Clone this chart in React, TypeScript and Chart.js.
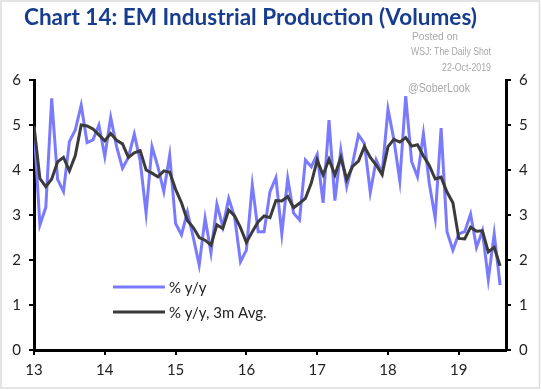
import React, { useEffect, useRef } from "react";
import { Chart, registerables } from "chart.js";

Chart.register(...registerables);

const TITLE = "Chart 14: EM Industrial Production (Volumes)";
const WATERMARK = ["Posted on", "WSJ: The Daily Shot", "22-Oct-2019"];
const HANDLE = "@SoberLook";
const START_YEAR = 13; // Jan 2013 = month 0
const MONTHS_SHOWN = 80; // axis runs to Sep 2019
const Y_MIN = 0;
const Y_MAX = 6;
const SERIES_LABELS = ["% y/y", "% y/y, 3m Avg."];

// Monthly, Jan 2013 .. Aug 2019
const yoy = [
  4.95, 2.78, 3.17, 5.59, 3.79, 3.52, 4.63, 4.89, 5.44, 4.61, 4.67, 5.0,
  4.3, 5.17, 4.52, 4.04, 4.28, 4.8, 4.2, 3.04, 4.52, 4.07, 3.52, 4.33,
  2.81, 2.56, 3.07, 2.5, 1.89, 2.93, 2.16, 3.24, 2.74, 3.37, 2.96, 1.96,
  2.22, 3.67, 2.63, 2.63, 3.52, 3.83, 2.58, 3.81, 3.04, 2.89, 4.22, 4.07,
  4.35, 3.27, 5.11, 3.32, 4.44, 3.63, 4.15, 4.78, 4.59, 3.5, 4.22, 3.93,
  5.35, 4.67, 3.76, 5.64, 4.19, 3.85, 4.81, 3.7, 2.93, 4.93, 2.63, 2.22,
  2.58, 2.63, 3.02, 2.28, 2.65, 1.57, 2.58, 1.44,
];

const avg3m = [
  4.98, 3.81, 3.63, 3.8, 4.18, 4.28, 3.98, 4.32, 5.0, 4.98, 4.91, 4.78,
  4.65, 4.81, 4.66, 4.58, 4.28, 4.38, 4.43, 4.0, 3.93, 3.85, 3.98, 3.95,
  3.57, 3.27, 2.88, 2.72, 2.5, 2.44, 2.33, 2.78, 2.7, 3.11, 2.98, 2.72,
  2.39, 2.63, 2.85, 2.98, 2.94, 3.32, 3.31, 3.41, 3.16, 3.26, 3.37, 3.71,
  4.22, 3.89, 4.24, 3.89, 4.28, 3.79, 4.08, 4.2, 4.52, 4.28, 4.11, 3.9,
  4.52, 4.68, 4.62, 4.72, 4.53, 4.56, 4.31, 4.1, 3.8, 3.84, 3.51, 3.27,
  2.48, 2.47, 2.73, 2.64, 2.65, 2.18, 2.28, 1.87,
];

const BLUE = "#7a7aff";
const DARK = "#3b3b3b";
const TICK_FONT = { family: "Lato", size: 15 };

const overlay = {
  id: "overlay",
  afterDraw(chart: any) {
    const ctx = chart.ctx as CanvasRenderingContext2D;
    ctx.save();
    // frame
    ctx.strokeStyle = "#dcdcdc";
    ctx.lineWidth = 1.5;
    ctx.strokeRect(1, 1, 538.5, 387);
    // title
    ctx.fillStyle = "#183d8e";
    ctx.font = "bold 23px Lato";
    ctx.textAlign = "left";
    ctx.textBaseline = "alphabetic";
    ctx.fillText(TITLE, 24, 25, 453);
    // watermark
    ctx.fillStyle = "#a8a8a8";
    ctx.font = "11px 'Liberation Sans'";
    ctx.fillText(WATERMARK[0], 412, 40, 46);
    ctx.font = "10px 'Liberation Sans'";
    ctx.textAlign = "right";
    ctx.fillText(WATERMARK[1], 491, 55, 80);
    ctx.fillText(WATERMARK[2], 491, 71, 49);
    ctx.textAlign = "left";
    ctx.font = "12px 'Liberation Sans'";
    ctx.fillText(HANDLE, 408, 92, 62);
    // legend
    const ds = chart.data.datasets;
    const rows = [
      { y: 287, i: 0 },
      { y: 312, i: 1 },
    ];
    ctx.font = "15px Lato";
    ctx.textBaseline = "middle";
    rows.forEach((r) => {
      const d = ds[r.i];
      ctx.strokeStyle = d.borderColor;
      ctx.lineWidth = 3;
      ctx.beginPath();
      ctx.moveTo(113, r.y);
      ctx.lineTo(165, r.y);
      ctx.stroke();
      ctx.fillStyle = "#222";
      ctx.fillText(d.label, 169, r.y + 1);
    });
    ctx.restore();
  },
};

export default function App() {
  const ref = useRef<HTMLCanvasElement>(null);
  useEffect(() => {
    document.body.style.margin = "0";
    const canvas = ref.current!;
    const chart = new Chart(canvas, {
      type: "line",
      data: {
        datasets: [
          {
            label: SERIES_LABELS[0],
            data: yoy.map((v, i) => ({ x: i, y: v })),
            borderColor: BLUE,
            borderWidth: 3,
            pointRadius: 0,
            tension: 0,
            order: 2,
          },
          {
            label: SERIES_LABELS[1],
            data: avg3m.map((v, i) => ({ x: i, y: v })),
            borderColor: DARK,
            borderWidth: 3,
            pointRadius: 0,
            tension: 0,
            order: 1,
          },
        ],
      },
      options: {
        responsive: false,
        animation: false,
        layout: { padding: { top: 80, left: 0, right: 0, bottom: 0 } },
        plugins: {
          legend: { display: false },
          tooltip: { enabled: false },
          title: { display: false },
        },
        scales: {
          x: {
            type: "linear",
            min: 0,
            max: MONTHS_SHOWN,
            afterFit: (s: any) => {
              s.height = 41;
            },
            ticks: {
              stepSize: 12,
              includeBounds: false,
              autoSkip: false,
              maxRotation: 0,
              padding: 6,
              color: "#222",
              font: TICK_FONT,
              callback: (v: any) => (Number(v) % 12 === 0 ? String(START_YEAR + Number(v) / 12) : ""),
            },
            grid: { drawOnChartArea: false, drawTicks: true, tickLength: 5, color: "#000", lineWidth: 2 },
            border: { display: true, color: "#000", width: 3 },
          },
          y: {
            type: "linear",
            position: "left",
            min: Y_MIN,
            max: Y_MAX,
            afterFit: (s: any) => {
              s.width = 34;
            },
            ticks: { stepSize: 1, padding: 8, color: "#222", font: TICK_FONT },
            grid: { drawOnChartArea: false, drawTicks: true, tickLength: 5, color: "#000", lineWidth: 2 },
            border: { display: true, color: "#000", width: 3 },
          },
          y2: {
            type: "linear",
            position: "right",
            min: Y_MIN,
            max: Y_MAX,
            afterFit: (s: any) => {
              s.width = 35;
            },
            ticks: { stepSize: 1, padding: 8, color: "#222", font: TICK_FONT },
            grid: { drawOnChartArea: false, drawTicks: true, tickLength: 5, color: "#000", lineWidth: 2 },
            border: { display: true, color: "#000", width: 3 },
          },
        },
      },
      plugins: [overlay],
    });
    return () => chart.destroy();
  }, []);
  return (
    <div style={{ position: "fixed", left: 0, top: 0, width: 541, height: 391, background: "#fff" }}>
      <canvas ref={ref} width={541} height={391} style={{ width: 541, height: 391, display: "block" }} />
    </div>
  );
}
